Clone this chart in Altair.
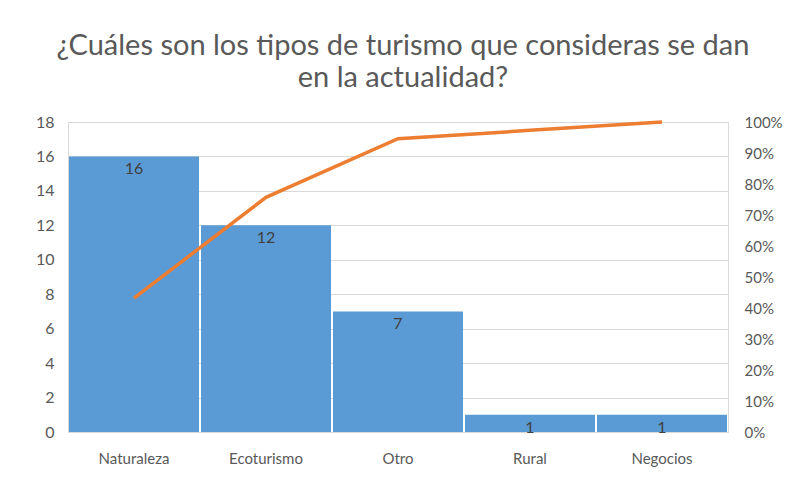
import altair as alt
import pandas as pd

categories = ["Naturaleza", "Ecoturismo", "Otro", "Rural", "Negocios"]
counts = [16, 12, 7, 1, 1]
cumulative_pct = [0.432, 0.757, 0.946, 0.973, 1.0]

df = pd.DataFrame({"cat": categories, "n": counts, "cum": cumulative_pct})

FONT = "Lato"
GRAY = "#595959"
GRID = "#d9d9d9"

x = alt.X("cat:N", sort=categories, title=None,
          scale=alt.Scale(paddingInner=0.015, paddingOuter=0.0075),
          axis=alt.Axis(labelAngle=0, ticks=False, domain=False, labelPadding=19,
                        labelFontSize=15, labelColor=GRAY, labelFont=FONT))

y_left_axis = alt.Axis(values=list(range(0, 19, 2)), ticks=False, domain=False,
                       labelPadding=14, labelFontSize=16, labelColor=GRAY,
                       labelFont=FONT, gridColor=GRID, gridWidth=1, grid=True)

bars = alt.Chart(df).mark_bar(color="#5B9BD5").encode(
    x=x,
    y=alt.Y("n:Q", title=None, scale=alt.Scale(domain=[0, 18], nice=False), axis=y_left_axis),
)

labels = alt.Chart(df).mark_text(baseline="top", dy=5, fontSize=16, color="#404040", font=FONT).encode(
    x=alt.X("cat:N", sort=categories),
    y=alt.Y("n:Q", title=None, scale=alt.Scale(domain=[0, 18], nice=False), axis=y_left_axis),
    text="n:Q",
)

line = alt.Chart(df).mark_line(color="#ED7D31", strokeWidth=3.5).encode(
    x=alt.X("cat:N", sort=categories),
    y=alt.Y("cum:Q", title=None,
            scale=alt.Scale(domain=[0, 1], nice=False),
            axis=alt.Axis(orient="right", format=".0%", values=[i / 10 for i in range(11)],
                          ticks=False, domain=False, grid=False, labelPadding=16,
                          labelFontSize=15, labelColor=GRAY, labelFont=FONT)),
)

left = alt.layer(bars, labels)
chart = alt.layer(left, line).resolve_scale(y="independent").properties(
    width=660, height=310,
    title=alt.Title(["¿Cuáles son los tipos de turismo que consideras se dan", "en la actualidad?"],
                    fontSize=29, font=FONT, fontWeight="normal", color=GRAY,
                    anchor="middle", offset=21, lineHeight=32, dx=5),
    autosize=alt.AutoSizeParams(type="none"),
    padding={"left": 60, "top": 114, "right": 71, "bottom": 50},
).configure_view(stroke=GRID, strokeWidth=1)

chart.save("out.html", embed_options={"renderer": "svg", "actions": False})
